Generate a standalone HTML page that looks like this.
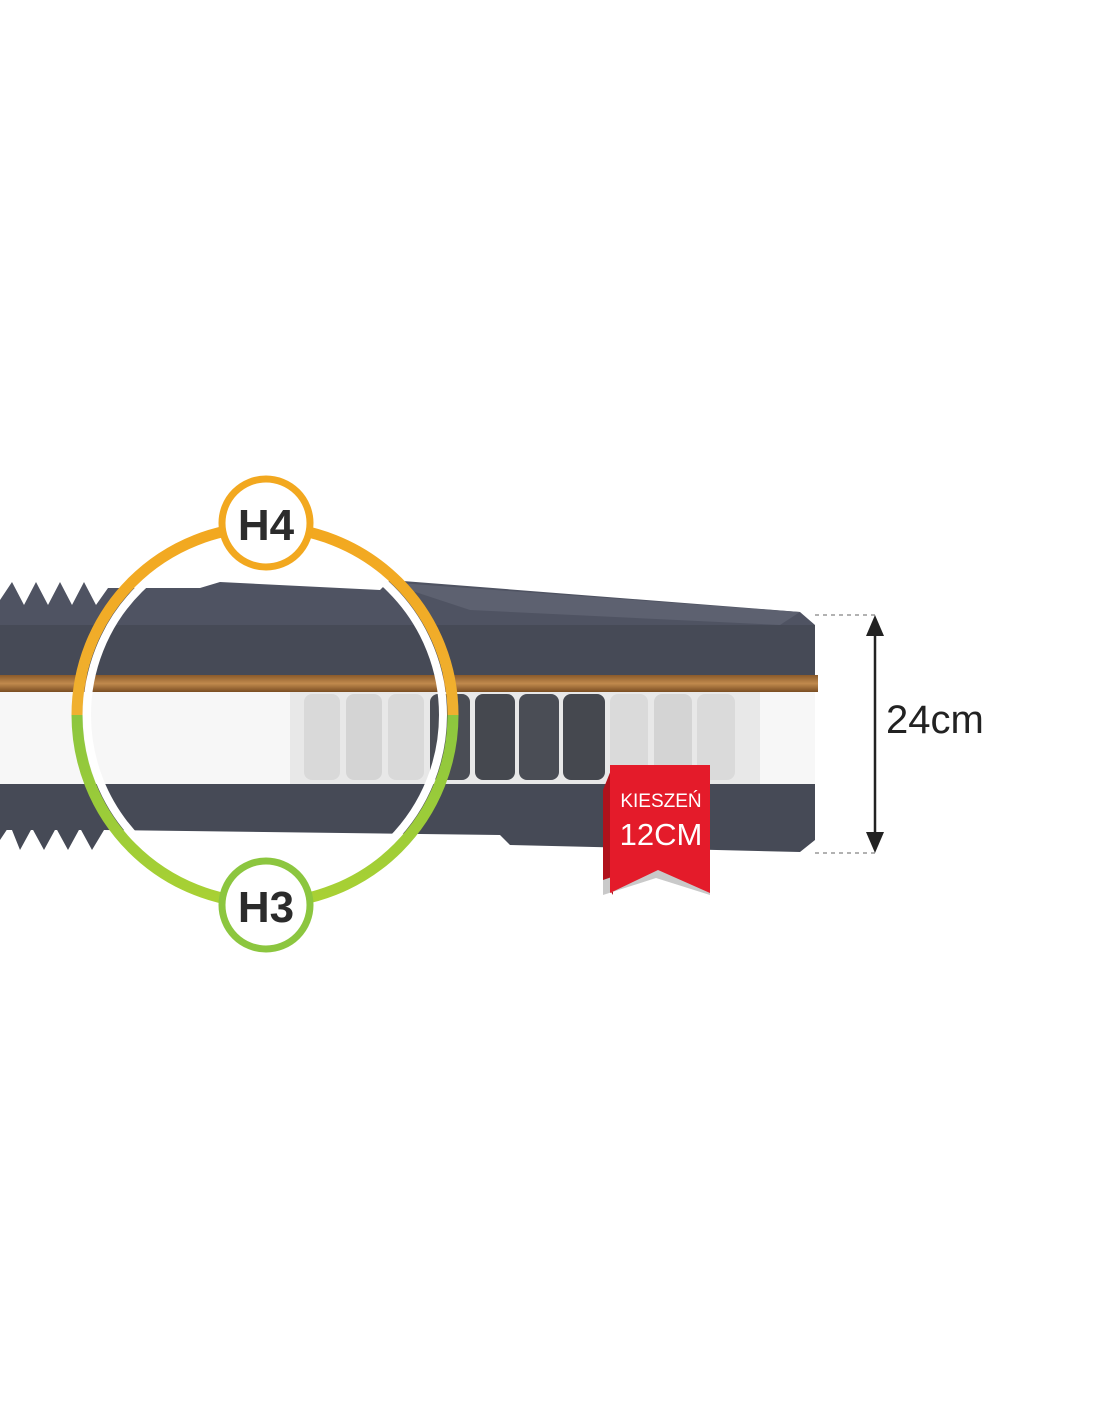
<!DOCTYPE html>
<html><head><meta charset="utf-8"><style>html,body{margin:0;padding:0;background:#fff}svg{display:block}</style></head><body>
<svg width="1100" height="1422" viewBox="0 0 1100 1422" xmlns="http://www.w3.org/2000/svg" font-family="'Liberation Sans', sans-serif">
<defs>
<linearGradient id="ring" x1="0" y1="0" x2="0" y2="1"><stop offset="0" stop-color="#f2a81f"/><stop offset="0.5" stop-color="#f0b030"/><stop offset="0.5" stop-color="#8cc63f"/><stop offset="1" stop-color="#a9d133"/></linearGradient>
<linearGradient id="coco" x1="0" y1="0" x2="0" y2="1"><stop offset="0" stop-color="#8a5a2a"/><stop offset="0.5" stop-color="#c18a4d"/><stop offset="1" stop-color="#7a4d22"/></linearGradient>
<pattern id="zz" width="20" height="60" patternUnits="userSpaceOnUse"><path d="M0 60 L10 5 L20 60 Z" fill="#555a68"/></pattern>
</defs>
<!-- top zigzag left -->
<path d="M0 600 L12 582 L24 605 L36 582 L48 605 L60 582 L72 605 L84 582 L96 605 L108 588 L200 588 L220 582 L380 590 L390 580 L800 612 L815 625 L815 640 L0 640 Z" fill="#4f5362"/>
<path d="M385 582 L800 612 L780 625 L470 610 Z" fill="#5d6170"/>
<!-- top dark body -->
<rect x="0" y="625" width="815" height="52" fill="#464a56"/>
<rect x="0" y="675" width="818" height="17" fill="url(#coco)"/>
<!-- white layer -->
<rect x="0" y="692" width="815" height="92" fill="#f7f7f7"/>
<rect x="290" y="692" width="470" height="92" fill="#e8e8e8"/>
<g>
<rect x="304" y="694" width="36" height="86" rx="8" fill="#d9d9d9"/>
<rect x="346" y="694" width="36" height="86" rx="8" fill="#d4d4d4"/>
<rect x="388" y="694" width="36" height="86" rx="8" fill="#d9d9d9"/>
<rect x="430" y="694" width="40" height="86" rx="8" fill="#4a4d55"/>
<rect x="475" y="694" width="40" height="86" rx="8" fill="#45484f"/>
<rect x="519" y="694" width="40" height="86" rx="8" fill="#4a4d55"/>
<rect x="563" y="694" width="42" height="86" rx="8" fill="#45484f"/>
<rect x="610" y="694" width="38" height="86" rx="8" fill="#dadada"/>
<rect x="654" y="694" width="38" height="86" rx="8" fill="#d4d4d4"/>
<rect x="697" y="694" width="38" height="86" rx="8" fill="#dadada"/>
</g>
<!-- bottom layer -->
<rect x="0" y="784" width="815" height="46" fill="#464a56"/>
<path d="M0 830 L0 840 L10 825 L20 850 L32 828 L44 850 L56 828 L68 850 L80 828 L92 850 L104 830 L500 835 L510 845 L800 852 L815 840 L815 830 Z" fill="#464a56"/>
<!-- magnifier inner -->
<circle cx="265" cy="715" r="178" fill="none" stroke="#fff" stroke-width="8"/>
<circle cx="265" cy="715" r="188" fill="none" stroke="url(#ring)" stroke-width="11"/>
<!-- H4 -->
<circle cx="266" cy="523" r="44" fill="#fff" stroke="#f2a81f" stroke-width="7"/>
<text x="266" y="540" text-anchor="middle" font-size="44" font-weight="bold" fill="#2b2b2b">H4</text>
<!-- H3 -->
<circle cx="266" cy="905" r="44" fill="#fff" stroke="#8cc63f" stroke-width="7"/>
<text x="266" y="922" text-anchor="middle" font-size="44" font-weight="bold" fill="#2b2b2b">H3</text>
<!-- ribbon -->
<path d="M603 790 L613 765 L613 895 L603 880 Z" fill="#b0121c"/>
<path d="M603 880 L656 862 L710 880 L710 895 L656 878 L603 895 Z" fill="#c9c9c9"/>
<path d="M610 765 L710 765 L710 893 L658 870 L610 893 Z" fill="#e41b2a"/>
<text x="661" y="807" text-anchor="middle" font-size="19" fill="#fff">KIESZEŃ</text>
<text x="661" y="845" text-anchor="middle" font-size="31" fill="#fff">12CM</text>
<!-- dimension -->
<line x1="815" y1="615" x2="875" y2="615" stroke="#999" stroke-width="1.5" stroke-dasharray="4 4"/>
<line x1="815" y1="853" x2="875" y2="853" stroke="#999" stroke-width="1.5" stroke-dasharray="4 4"/>
<line x1="875" y1="625" x2="875" y2="843" stroke="#222" stroke-width="2.5"/>
<path d="M866 636 L875 615 L884 636 Z" fill="#222"/>
<path d="M866 832 L875 853 L884 832 Z" fill="#222"/>
<text x="886" y="733" font-size="40" fill="#222">24cm</text>
</svg>
</body></html>
